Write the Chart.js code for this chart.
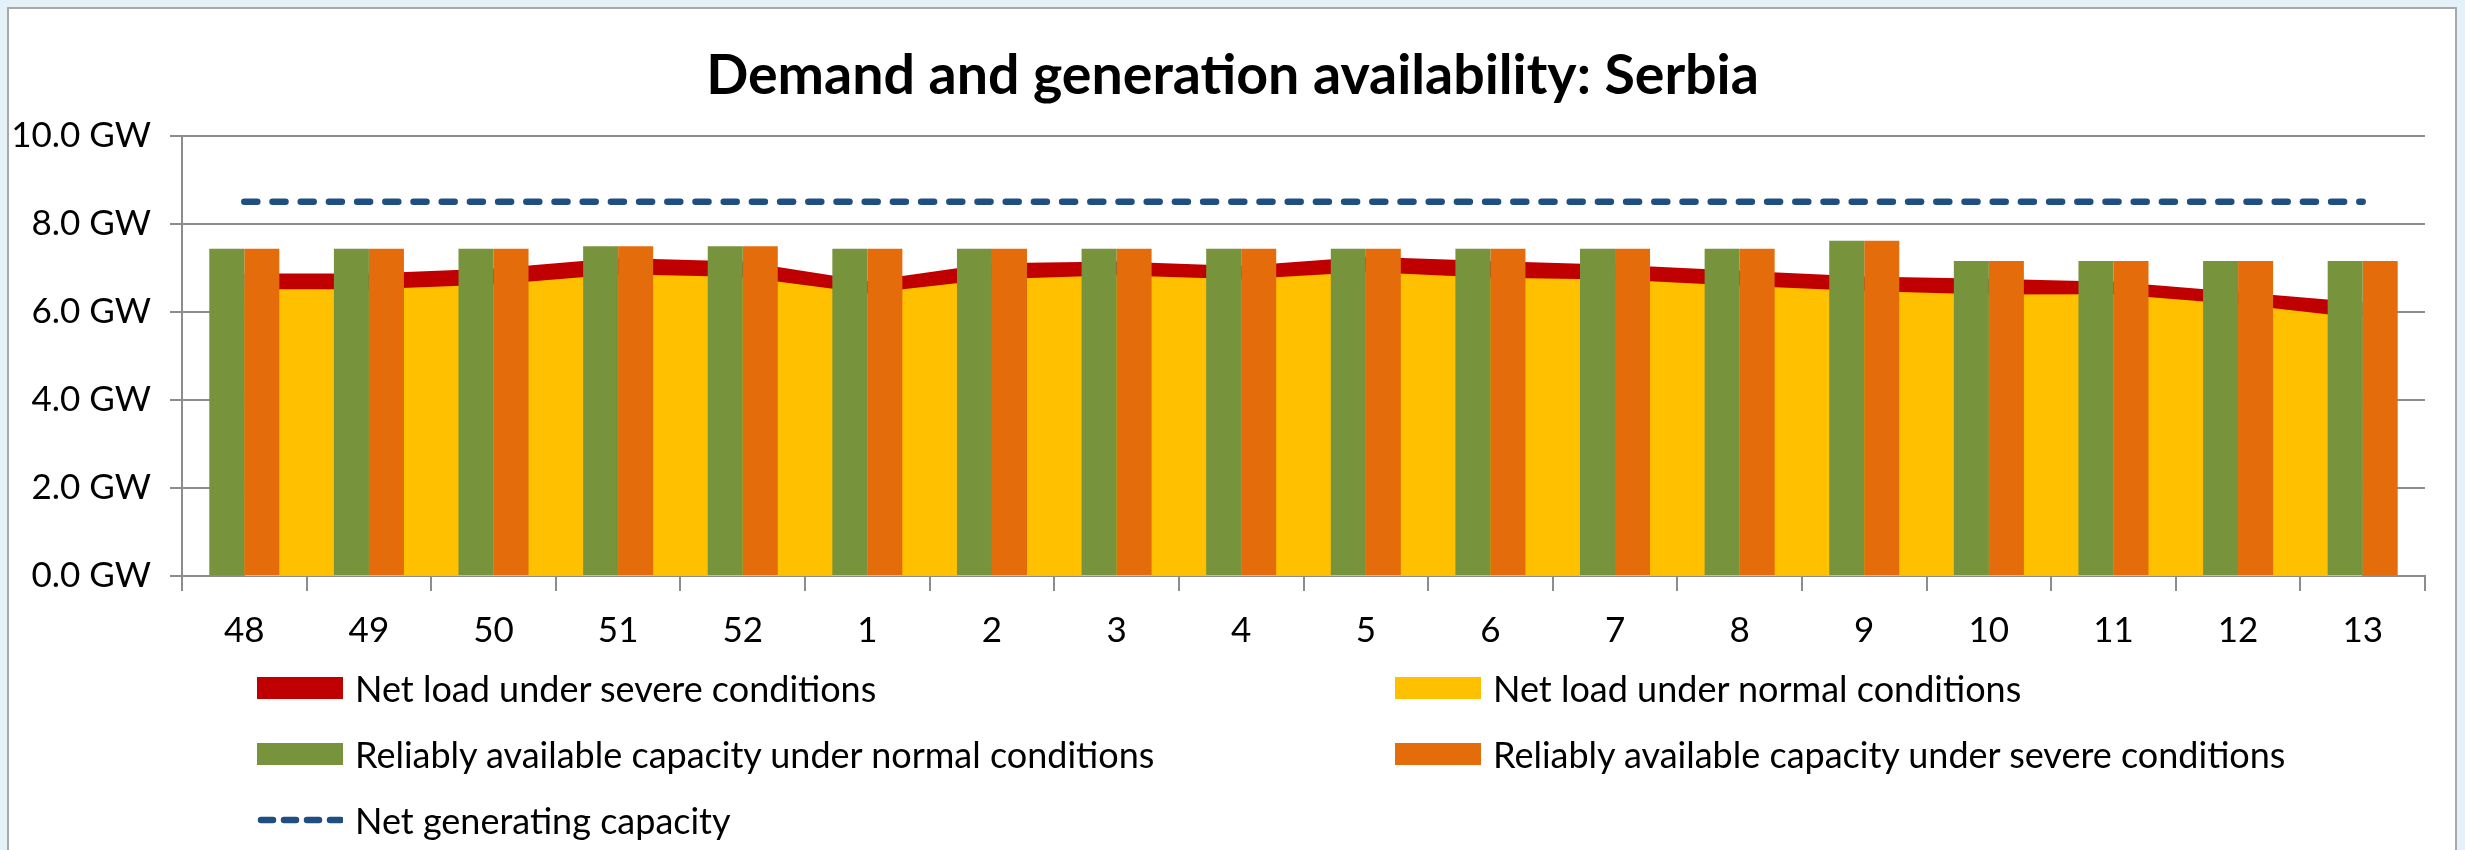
<!DOCTYPE html>
<html>
<head>
<meta charset="utf-8">
<script src="https://cdn.jsdelivr.net/npm/chart.js@4.4.1/dist/chart.umd.min.js"></script>
<style>
  html, body {
    margin: 0;
    padding: 0;
    width: 2465px;
    height: 850px;
    overflow: hidden;
    background: #e4f1f8;
    font-family: Lato, "Liberation Sans", sans-serif;
  }
  .frame {
    position: absolute;
    left: 7px;
    top: 7px;
    width: 2446px;
    height: 860px;
    background: #fff;
    border: 2px solid #a9a9a9;
  }
  #chart {
    position: absolute;
    left: 0;
    top: 0;
  }
  .legend {
    position: absolute;
    left: 257px;
    top: 655px;
    display: grid;
    grid-template-columns: 1138px auto;
    grid-auto-rows: 66px;
  }
  .legend-item {
    display: flex;
    align-items: center;
    font-size: 36px;
    color: #000;
    white-space: nowrap;
  }
  .swatch {
    width: 86px;
    height: 22px;
    margin-right: 12px;
    flex: none;
  }
</style>
</head>
<body>
<div class="frame"></div>
<canvas id="chart" width="2465" height="850"></canvas>
<div class="legend" id="legend"></div>

<script>
const FONT = 'Lato, "Liberation Sans", sans-serif';

// weeks
const weeks = ["48", "49", "50", "51", "52", "1", "2", "3", "4", "5", "6", "7", "8", "9", "10", "11", "12", "13"];

// values in GW
const netLoadSevere = [6.87, 6.87, 6.98, 7.22, 7.14, 6.70, 7.10, 7.14, 7.04, 7.25, 7.15, 7.07, 6.93, 6.80, 6.75, 6.68, 6.45, 6.21];
const netLoadNormal = [6.51, 6.51, 6.62, 6.85, 6.79, 6.42, 6.74, 6.83, 6.74, 6.90, 6.77, 6.73, 6.59, 6.47, 6.39, 6.40, 6.17, 5.85];
const capacityNormal = [7.43, 7.43, 7.43, 7.49, 7.49, 7.43, 7.43, 7.43, 7.43, 7.43, 7.43, 7.43, 7.43, 7.61, 7.15, 7.15, 7.15, 7.15];
const capacitySevere = [7.43, 7.43, 7.43, 7.49, 7.49, 7.43, 7.43, 7.43, 7.43, 7.43, 7.43, 7.43, 7.43, 7.61, 7.15, 7.15, 7.15, 7.15];
const netGenerating = [8.5, 8.5, 8.5, 8.5, 8.5, 8.5, 8.5, 8.5, 8.5, 8.5, 8.5, 8.5, 8.5, 8.5, 8.5, 8.5, 8.5, 8.5];

const yTicks = [0, 2, 4, 6, 8, 10];

document.addEventListener("DOMContentLoaded", () => {
  const ctx = document.getElementById("chart");

  const chart = new Chart(ctx, {
    data: {
      labels: weeks,
      datasets: [
        {
          type: "line",
          label: "Net load under severe conditions",
          data: netLoadSevere,
          backgroundColor: "#c00000",
          borderColor: "rgba(0,0,0,0)",
          borderWidth: 0,
          pointRadius: 0,
          fill: "origin",
          order: 3,
        },
        {
          type: "line",
          label: "Net load under normal conditions",
          data: netLoadNormal,
          backgroundColor: "#ffc000",
          borderColor: "rgba(0,0,0,0)",
          borderWidth: 0,
          pointRadius: 0,
          fill: "origin",
          order: 2,
        },
        {
          type: "bar",
          label: "Reliably available capacity under normal conditions",
          data: capacityNormal,
          backgroundColor: "#77933c",
          categoryPercentage: 0.562,
          barPercentage: 1,
          order: 1,
        },
        {
          type: "bar",
          label: "Reliably available capacity under severe conditions",
          data: capacitySevere,
          backgroundColor: "#e46c0a",
          categoryPercentage: 0.562,
          barPercentage: 1,
          order: 1,
        },
        {
          type: "line",
          label: "Net generating capacity",
          data: netGenerating,
          borderColor: "#1f4e80",
          borderWidth: 6.5,
          borderDash: [13, 15.2],
          borderCapStyle: "round",
          pointRadius: 0,
          fill: false,
          order: 0,
        },
      ],
    },
    options: {
      responsive: false,
      animation: false,
      devicePixelRatio: 1,
      layout: {
        padding: { left: 0, right: 0, top: 0, bottom: 184 },
      },
      plugins: {
        legend: { display: false },
        tooltip: { enabled: false },
        title: {
          display: true,
          text: "Demand and generation availability: Serbia",
          color: "#000",
          font: { family: FONT, size: 55.5, weight: "bold" },
          padding: { top: 43, bottom: 26 },
        },
      },
      scales: {
        x: {
          afterFit: (scale) => {
            scale.height = 90;
          },
          grid: {
            drawOnChartArea: false,
            color: "#8c8c8c",
            lineWidth: 2,
            tickLength: 15,
          },
          border: { color: "#8c8c8c", width: 2 },
          ticks: {
            color: "#000",
            padding: 19,
            font: { family: FONT, size: 35 },
          },
        },
        y: {
          min: 0,
          max: 10,
          afterFit: (scale) => {
            scale.width = 182;
          },
          afterBuildTicks: (scale) => {
            scale.ticks = yTicks.map((v) => ({ value: v }));
          },
          grid: {
            color: "#8c8c8c",
            lineWidth: 2,
            tickLength: 12,
          },
          border: { color: "#8c8c8c", width: 2 },
          ticks: {
            color: "#000",
            padding: 19,
            font: { family: FONT, size: 35 },
            callback: (v) => v.toFixed(1) + " GW",
          },
        },
        // empty right margin, keeps the title centred on the whole box
        spacer: {
          type: "linear",
          position: "right",
          afterFit: (scale) => {
            scale.width = 40;
          },
          grid: { display: false },
          border: { display: false },
          ticks: { display: false },
        },
      },
    },
  });

  // LEGEND (two columns, like the original)
  const legend = document.getElementById("legend");
  chart.data.datasets.forEach((ds) => {
    const item = document.createElement("div");
    item.className = "legend-item";

    let swatch;
    if (ds.borderDash) {
      swatch = document.createElementNS("http://www.w3.org/2000/svg", "svg");
      swatch.setAttribute("width", "86");
      swatch.setAttribute("height", "22");
      swatch.style.marginRight = "12px";
      swatch.innerHTML =
        '<line x1="4" y1="11" x2="84" y2="11" stroke="' + ds.borderColor +
        '" stroke-width="6.5" stroke-linecap="round" stroke-dasharray="12 11"/>';
    } else {
      swatch = document.createElement("div");
      swatch.className = "swatch";
      swatch.style.background = ds.backgroundColor;
    }

    const text = document.createElement("span");
    text.textContent = ds.label;

    item.appendChild(swatch);
    item.appendChild(text);
    legend.appendChild(item);
  });
});
</script>
</body>
</html>
